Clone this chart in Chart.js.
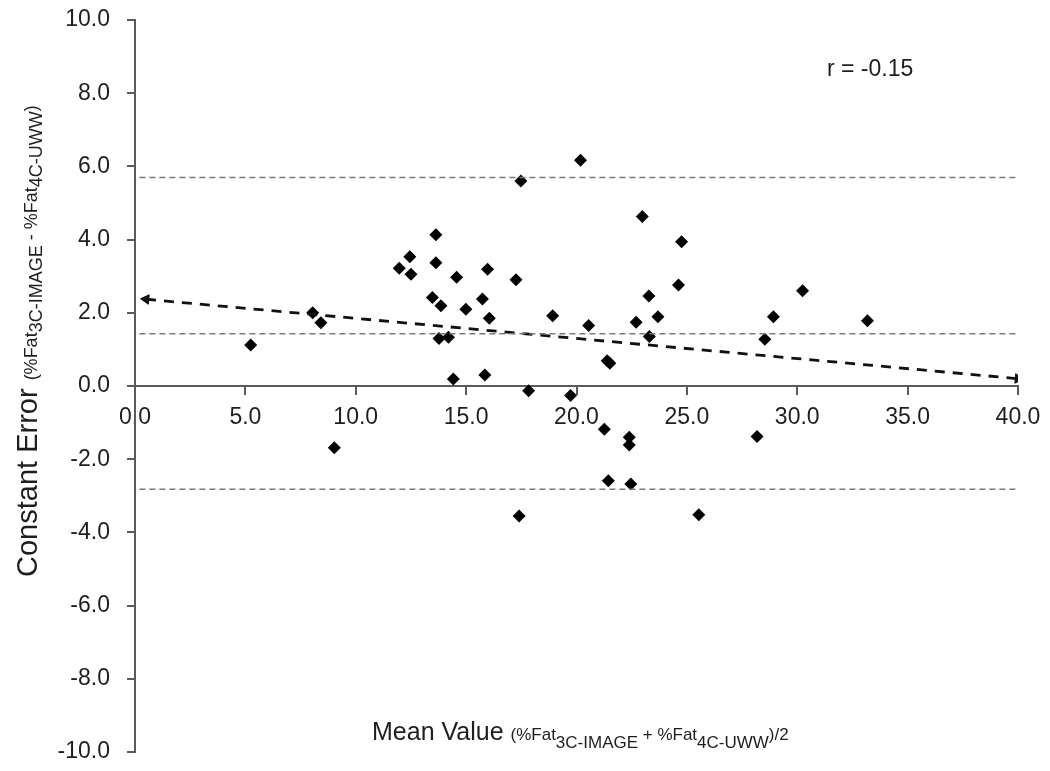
<!DOCTYPE html>
<html>
<head>
<meta charset="utf-8">
<title>Constant Error vs Mean Value</title>
<script src="https://cdn.jsdelivr.net/npm/chart.js@4.4.1/dist/chart.umd.min.js"></script>
<style>
    html, body { margin: 0; padding: 0; background: #ffffff; }
    #wrap { position: relative; width: 1050px; height: 771px; }
</style>
</head>
<body>
<div id="wrap"><canvas id="chart-ba"></canvas></div>
<script>
// Valori
const meanValues = [
    5.24, 8.05, 8.42, 9.03, 11.97, 12.45, 12.50, 13.63, 13.63, 13.47,
    13.86, 13.77, 14.20, 14.42, 14.57, 14.99, 15.74, 15.85, 15.97, 16.05,
    17.26, 17.48, 17.83, 18.92, 19.73, 20.18, 20.55, 21.39, 21.51, 21.26,
    22.98, 22.70, 23.28, 23.30, 23.69, 24.76, 24.62, 22.39, 22.39, 21.44,
    22.46, 17.40, 25.54, 28.53, 28.92, 30.24, 33.18, 28.18
];
const constantErrors = [
    1.12, 2.00, 1.73, -1.69, 3.22, 3.53, 3.05, 3.37, 4.13, 2.42,
    2.19, 1.30, 1.33, 0.19, 2.97, 2.10, 2.38, 0.30, 3.19, 1.85,
    2.90, 5.60, -0.13, 1.92, -0.26, 6.17, 1.65, 0.69, 0.62, -1.18,
    4.63, 1.74, 2.46, 1.35, 1.89, 3.94, 2.76, -1.40, -1.61, -2.59,
    -2.68, -3.55, -3.52, 1.28, 1.89, 2.60, 1.78, -1.38
];
// media e limiti di concordanza
const limitValues = [5.70, 1.43, -2.82];
const limitRange = [0.2, 40];
// retta di regressione (estremi)
const trendX = [0.5, 40];
const trendY = [2.37, 0.20];
const xTicksRange = [0, 40, 5];
const yTicksRange = [-10, 10, 2];
const corrLabel = 'r = -0.15';

const FONT = '"Liberation Sans", Arial, sans-serif';
const TEXT = '#1e1e1e';
const AXIS = '#5a5a5a';

function richText(ctx, parts, x, y) {
    // disegna testo con pedici a partire da (x, y) sulla baseline
    let cx = x;
    parts.forEach(function (p) {
        ctx.font = p.size + 'px ' + FONT;
        ctx.fillText(p.t, cx, y + (p.dy || 0));
        cx += ctx.measureText(p.t).width;
    });
}

function noPadding(s) {
    s.paddingTop = 0;
    s.paddingBottom = 0;
    s.paddingLeft = 0;
    s.paddingRight = 0;
}

const titlesPlugin = {
    id: 'titles',
    afterDraw: function (chart) {
        const ctx = chart.ctx;
        ctx.save();
        ctx.fillStyle = TEXT;
        ctx.textAlign = 'left';
        ctx.textBaseline = 'alphabetic';

        richText(ctx, [
            { t: 'Mean Value ', size: 25 },
            { t: '(%Fat', size: 17 },
            { t: '3C-IMAGE', size: 17, dy: 8 },
            { t: ' + %Fat', size: 17 },
            { t: '4C-UWW', size: 17, dy: 8 },
            { t: ')/2', size: 17 }
        ], 372, 740);

        ctx.save();
        ctx.translate(37, 577);
        ctx.rotate(-Math.PI / 2);
        richText(ctx, [
            { t: 'Constant Error ', size: 29 },
            { t: '(%Fat', size: 18 },
            { t: '3C-IMAGE', size: 18, dy: 5 },
            { t: ' - %Fat', size: 18 },
            { t: '4C-UWW', size: 18, dy: 5 },
            { t: ')', size: 18 }
        ], 0, 0);
        ctx.restore();

        ctx.font = '23px ' + FONT;
        ctx.fillText(corrLabel, 827, 76);
        ctx.restore();
    }
};

const scatterPoints = meanValues.map(function (v, i) {
    return { x: v, y: constantErrors[i] };
});

const limitSets = limitValues.map(function (v) {
    return {
        type: 'line',
        data: [{ x: limitRange[0], y: v }, { x: limitRange[1], y: v }],
        borderColor: '#7a7a7a',
        borderWidth: 1.5,
        borderDash: [6, 4],
        pointRadius: 0,
        fill: false
    };
});

const trendSet = {
    type: 'line',
    data: [{ x: trendX[0], y: trendY[0] }, { x: trendX[1], y: trendY[1] }],
    borderColor: '#111111',
    borderWidth: 2.8,
    borderDash: [10, 8],
    pointStyle: 'triangle',
    pointRadius: 5.5,
    pointRotation: [275, 95],
    pointBackgroundColor: '#111111',
    pointBorderColor: '#111111',
    pointBorderWidth: 1,
    fill: false
};

new Chart(document.getElementById('chart-ba').getContext('2d'), {
    type: 'scatter',
    data: {
        datasets: limitSets.concat([trendSet, {
            type: 'scatter',
            data: scatterPoints,
            pointStyle: 'rectRot',
            pointRadius: 6.5,
            backgroundColor: '#000000',
            borderColor: '#000000',
            borderWidth: 0
        }])
    },
    options: {
        responsive: true,
        maintainAspectRatio: false,
        animation: false,
        layout: { padding: { top: 20, right: 32, bottom: 19, left: 0 } },
        plugins: {
            legend: { display: false },
            tooltip: { enabled: false }
        },
        scales: {
            x: {
                type: 'linear',
                position: { y: 0 },
                min: xTicksRange[0],
                max: xTicksRange[1],
                afterFit: noPadding,
                ticks: {
                    stepSize: xTicksRange[2],
                    color: TEXT,
                    padding: 10,
                    maxRotation: 0,
                    font: { family: FONT, size: 23 },
                    callback: function (v) { return Number(v).toFixed(1); }
                },
                grid: { display: true, drawOnChartArea: false, drawTicks: true, tickLength: 8, color: AXIS, lineWidth: 2 },
                border: { display: true, color: AXIS, width: 2 }
            },
            y: {
                type: 'linear',
                min: yTicksRange[0],
                max: yTicksRange[1],
                afterFit: function (s) {
                    s.width = 135;
                    noPadding(s);
                },
                ticks: {
                    stepSize: yTicksRange[2],
                    color: TEXT,
                    padding: 17,
                    font: { family: FONT, size: 23 },
                    callback: function (v) { return Number(v).toFixed(1); }
                },
                grid: { display: true, drawOnChartArea: false, drawTicks: true, tickLength: 8, color: AXIS, lineWidth: 2 },
                border: { display: true, color: AXIS, width: 2 }
            }
        }
    },
    plugins: [titlesPlugin]
});
</script>
</body>
</html>
